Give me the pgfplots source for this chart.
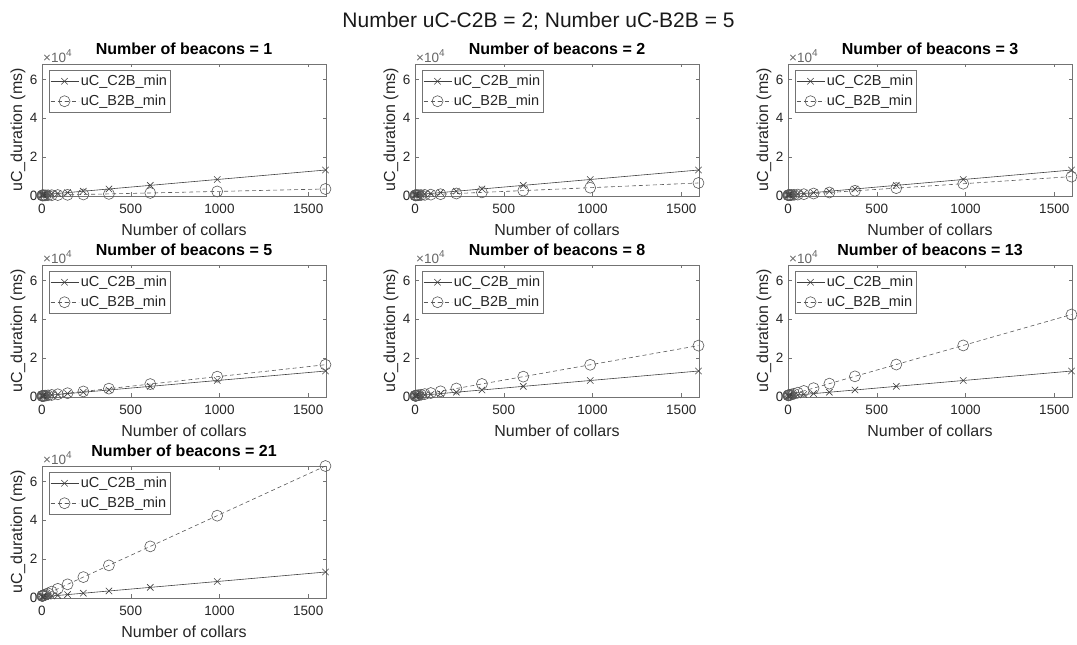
\documentclass[border=0pt]{standalone}
\usepackage{fontspec}
\setmainfont{Liberation Sans}
\usepackage{pgfplots}
\usepackage{pgfplotstable}
\pgfplotsset{compat=1.18}

% Minimum durations (ms) against the number of collars;
% c2b is shared by all panels, bN is the B2B duration with N beacons.
\pgfplotstableread{
n    c2b   b1    b2    b3    b5    b8    b13   b21
1    608   302   354   406   510   616   826   1042
2    616   304   358   412   520   632   852   1084
3    624   306   362   418   530   649   878   1126
5    640   310   370   430   551   681   931   1210
8    664   317   382   448   581   730   1009  1336
13   704   327   402   478   631   811   1139  1545
21   768   343   434   526   712   940   1348  1881
34   872   370   485   604   843   1151  1687  2426
55   1040  414   569   730   1056  1491  2236  3307
89   1312  484   704   934   1399  2042  3123  4734
144  1752  598   923   1264  1954  2933  4558  7041
233  2464  782   1277  1798  2853  4375  6881  10774
377  3616  1080  1850  2662  4308  6707  10640 16815
610  5480  1563  2778  4060  6661  10482 16721 26590
987  8496  2343  4278  6322  10469 16589 26561 42405
1597 13376 3606  6706  9982  16630 26471 42482 67994
}\durations

\newcommand\tickfont{\fontsize{13.5bp}{16bp}\selectfont}
\newcommand\labelfont{\fontsize{16bp}{19bp}\selectfont}

\pgfplotsset{
  panel/.style={
    scale only axis, width=284bp, height=132bp,
    anchor=south west, clip=false,
    xmin=0, xmax=1600, ymin=0, ymax=68000,
    scaled x ticks=false, scaled y ticks=false,
    xtick={0,500,1000,1500}, xticklabels={0,500,1000,1500},
    ytick={0,20000,40000,60000}, yticklabels={0,2,4,6},
    tick align=inside, tick pos=both, major tick length=3.5bp,
    axis line style={black!55, line width=0.5bp},
    every tick/.style={black!55, line width=0.5bp},
    tick label style={font=\tickfont, text=black!85},
    xticklabel shift=5bp,
    yticklabel shift=1bp,
    xlabel={Number of collars}, ylabel={uC\_duration (ms)},
    every axis x label/.style={at={(rel axis cs:0.5,0)}, yshift=-34bp,
      anchor=center, font=\labelfont, text=black!85},
    every axis y label/.style={at={(rel axis cs:0,0.5)}, xshift=-24bp,
      rotate=90, anchor=center, font=\labelfont, text=black!85},
    title style={font=\bfseries\fontsize{16bp}{19bp}\selectfont},
    legend style={at={(rel axis cs:0,1)}, xshift=7bp, yshift=-6bp, anchor=north west,
      draw=black!55, line width=0.5bp, fill=white,
      font=\fontsize{14.5bp}{17bp}\selectfont, text=black!85,
      inner xsep=1bp, inner ysep=3bp, row sep=4bp},
    legend cell align=left,
    legend image code/.code={%
      \draw[mark repeat=2, mark phase=2, ##1]
        plot coordinates {(0bp,0bp) (14bp,0bp) (28bp,0bp)};},
  },
  c2b/.style={black!75, line width=0.6bp, mark=x, mark size=4.5bp, mark options={solid}},
  b2b/.style={black!65, line width=0.6bp, dash pattern=on 4bp off 3bp,
    mark=o, mark size=5.5bp, mark options={solid}},
}

\newcommand\panel[4]{%
  \begin{axis}[panel, at={(#1bp,#2bp)}, title={Number of beacons = #3}]
    \addplot[c2b] table[x=n, y=c2b] {\durations};
    \addplot[b2b] table[x=n, y=#4] {\durations};
    \legend{uC\_C2B\_min, uC\_B2B\_min}
    \node[anchor=south west, inner sep=1bp, font=\tickfont, text=black!60]
      at (rel axis cs:0,1) {×10\raisebox{0.45em}{\fontsize{10bp}{12bp}\selectfont 4}};
  \end{axis}}

\begin{document}
\begin{tikzpicture}
  \path[use as bounding box] (0,0) rectangle (1077bp,645bp);
  \node[anchor=base, font=\fontsize{21bp}{25bp}\selectfont, text=black!90]
    at (538.5bp,617bp) {Number uC-C2B = 2; Number uC-B2B = 5};
  \panel{42}{449}{1}{b1}
  \panel{415}{449}{2}{b2}
  \panel{788}{449}{3}{b3}
  \panel{42}{248}{5}{b5}
  \panel{415}{248}{8}{b8}
  \panel{788}{248}{13}{b13}
  \panel{42}{47}{21}{b21}
\end{tikzpicture}
\end{document}
